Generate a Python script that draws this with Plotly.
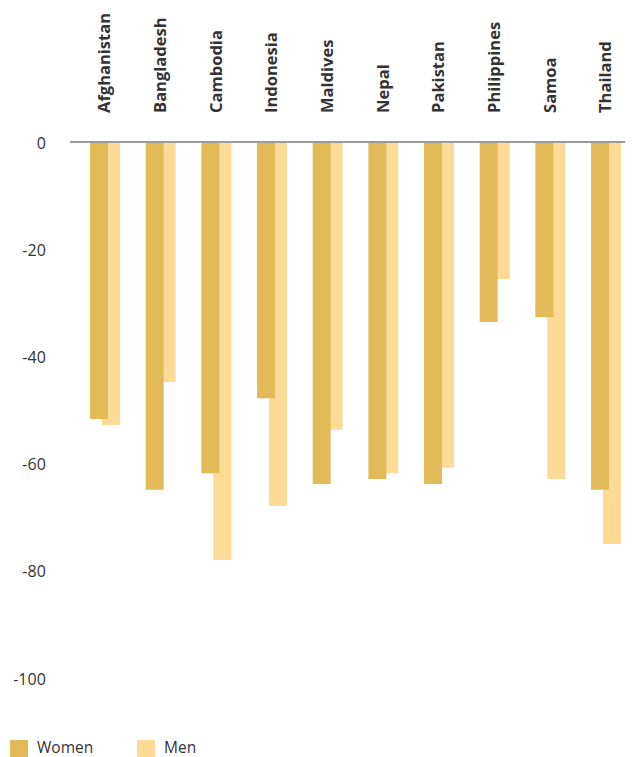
import plotly.graph_objects as go

countries = ["Afghanistan", "Bangladesh", "Cambodia", "Indonesia", "Maldives",
             "Nepal", "Pakistan", "Philippines", "Samoa", "Thailand"]
women = [-51.5, -64.7, -61.6, -47.6, -63.6, -62.7, -63.6, -33.4, -32.5, -64.7]
men = [-52.6, -44.6, -77.8, -67.7, -53.5, -61.6, -60.6, -25.4, -62.7, -74.8]
y_ticks = [0, -20, -40, -60, -80, -100]
legend_names = ["Women", "Men"]

WOMEN_COLOR = "#E3BA58"
MEN_COLOR = "#FDDA96"
FONT = "'Open Sans', Lato, sans-serif"

OFF = 8  # page body margin
W, H = 633, 757
L, T = 70 - OFF, 143 - OFF
R = OFF
B = H - (679 - OFF)
PW, PH = W - L - R, H - T - B


def px_x(p):
    return (p - OFF - L) / PW


def px_y(p):
    return (H - B - (p - OFF)) / PH


fig = go.Figure()
fig.add_trace(go.Bar(x=countries, y=men, name="Men", marker_color=MEN_COLOR,
                     width=0.3234, offset=-0.054, marker_line_width=0))
fig.add_trace(go.Bar(x=countries, y=women, name="Women", marker_color=WOMEN_COLOR,
                     width=0.3234, offset=-0.2695, marker_line_width=0))

legend_colors = [WOMEN_COLOR, MEN_COLOR]
legend_x = [10, 137]
shapes, annotations = [], []
for name, col, x0 in zip(legend_names, legend_colors, legend_x):
    shapes.append(dict(type="rect", xref="paper", yref="paper",
                       x0=px_x(x0), x1=px_x(x0 + 18), y0=px_y(740), y1=px_y(757),
                       fillcolor=col, line=dict(width=0)))
    annotations.append(dict(xref="paper", yref="paper", x=px_x(x0 + 25), y=px_y(747),
                            xanchor="left", yanchor="middle", showarrow=False,
                            text=name, font=dict(size=15.5, color="#333333", family=FONT)))

fig.update_layout(
    width=W, height=H,
    margin=dict(l=L, r=R, t=T, b=B),
    barmode="overlay",
    plot_bgcolor="white", paper_bgcolor="white",
    font=dict(family=FONT, color="#333333", size=15),
    showlegend=False,
    shapes=shapes, annotations=annotations,
    xaxis=dict(side="top", tickangle=-90, range=[-0.629, 9.485],
               showgrid=False, showline=True, linecolor="#9a9a9a", linewidth=1.5,
               ticks="outside", ticklen=25, tickcolor="rgba(0,0,0,0)",
               tickfont=dict(size=16.5, family=FONT, color="#333333", weight="bold"),
               automargin=False, fixedrange=True),
    yaxis=dict(range=[-100, 0], tickvals=y_ticks, ticktext=[str(v) for v in y_ticks],
               showgrid=False, zeroline=False, showline=False,
               ticks="outside", ticklen=20, tickcolor="rgba(0,0,0,0)",
               tickfont=dict(size=16, color="#333333"),
               automargin=False),
)

fig.write_html("out.html")
